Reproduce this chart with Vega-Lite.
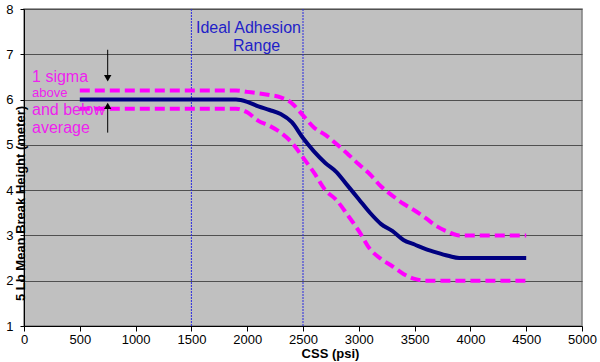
{
  "$schema": "https://vega.github.io/schema/vega-lite/v6.json",
  "width": 558,
  "height": 317,
  "autosize": {"type": "none"},
  "padding": {"left": 24, "top": 9, "right": 18, "bottom": 36},
  "background": "white",
  "config": {
    "view": {"fill": "#c0c0c0", "stroke": "#808080", "strokeWidth": 1.5},
    "font": "Liberation Sans",
    "axis": {
      "labelFont": "Liberation Sans",
      "titleFont": "Liberation Sans",
      "labelColor": "black",
      "titleColor": "black",
      "domainColor": "black",
      "tickColor": "black",
      "labelFontSize": 13,
      "titleFontSize": 13,
      "titleFontWeight": "bold"
    }
  },
  "datasets": {
    "curves": [
      {"x": 500, "y": 6.0, "s": "mean"}, {"x": 1000, "y": 6.0, "s": "mean"}, {"x": 1500, "y": 6.0, "s": "mean"}, {"x": 1900, "y": 6.0, "s": "mean"},
      {"x": 2000, "y": 5.95, "s": "mean"}, {"x": 2100, "y": 5.85, "s": "mean"}, {"x": 2200, "y": 5.77, "s": "mean"}, {"x": 2300, "y": 5.68, "s": "mean"},
      {"x": 2400, "y": 5.5, "s": "mean"}, {"x": 2500, "y": 5.15, "s": "mean"}, {"x": 2600, "y": 4.85, "s": "mean"}, {"x": 2700, "y": 4.6, "s": "mean"},
      {"x": 2800, "y": 4.4, "s": "mean"}, {"x": 2900, "y": 4.1, "s": "mean"}, {"x": 3000, "y": 3.8, "s": "mean"}, {"x": 3100, "y": 3.5, "s": "mean"},
      {"x": 3200, "y": 3.25, "s": "mean"}, {"x": 3300, "y": 3.1, "s": "mean"}, {"x": 3400, "y": 2.9, "s": "mean"}, {"x": 3500, "y": 2.8, "s": "mean"},
      {"x": 3600, "y": 2.7, "s": "mean"}, {"x": 3700, "y": 2.62, "s": "mean"}, {"x": 3800, "y": 2.55, "s": "mean"}, {"x": 3900, "y": 2.5, "s": "mean"},
      {"x": 4000, "y": 2.5, "s": "mean"}, {"x": 4500, "y": 2.5, "s": "mean"},
      {"x": 500, "y": 6.2, "s": "upper"}, {"x": 1000, "y": 6.2, "s": "upper"}, {"x": 1500, "y": 6.2, "s": "upper"}, {"x": 1900, "y": 6.2, "s": "upper"},
      {"x": 2000, "y": 6.17, "s": "upper"}, {"x": 2100, "y": 6.14, "s": "upper"}, {"x": 2200, "y": 6.1, "s": "upper"}, {"x": 2300, "y": 6.05, "s": "upper"},
      {"x": 2400, "y": 5.92, "s": "upper"}, {"x": 2500, "y": 5.65, "s": "upper"}, {"x": 2600, "y": 5.38, "s": "upper"}, {"x": 2700, "y": 5.22, "s": "upper"},
      {"x": 2800, "y": 5.02, "s": "upper"}, {"x": 2900, "y": 4.8, "s": "upper"}, {"x": 3000, "y": 4.57, "s": "upper"}, {"x": 3100, "y": 4.35, "s": "upper"},
      {"x": 3200, "y": 4.08, "s": "upper"}, {"x": 3300, "y": 3.88, "s": "upper"}, {"x": 3400, "y": 3.7, "s": "upper"}, {"x": 3500, "y": 3.55, "s": "upper"},
      {"x": 3600, "y": 3.38, "s": "upper"}, {"x": 3700, "y": 3.2, "s": "upper"}, {"x": 3800, "y": 3.08, "s": "upper"}, {"x": 3900, "y": 3.0, "s": "upper"},
      {"x": 4000, "y": 3.0, "s": "upper"}, {"x": 4500, "y": 3.0, "s": "upper"},
      {"x": 500, "y": 5.8, "s": "lower"}, {"x": 1000, "y": 5.8, "s": "lower"}, {"x": 1500, "y": 5.8, "s": "lower"}, {"x": 1900, "y": 5.8, "s": "lower"},
      {"x": 2000, "y": 5.72, "s": "lower"}, {"x": 2100, "y": 5.53, "s": "lower"}, {"x": 2200, "y": 5.42, "s": "lower"}, {"x": 2300, "y": 5.27, "s": "lower"},
      {"x": 2400, "y": 5.05, "s": "lower"}, {"x": 2500, "y": 4.72, "s": "lower"}, {"x": 2600, "y": 4.38, "s": "lower"}, {"x": 2700, "y": 4.0, "s": "lower"},
      {"x": 2800, "y": 3.78, "s": "lower"}, {"x": 2900, "y": 3.45, "s": "lower"}, {"x": 3000, "y": 3.1, "s": "lower"}, {"x": 3100, "y": 2.7, "s": "lower"},
      {"x": 3200, "y": 2.48, "s": "lower"}, {"x": 3300, "y": 2.32, "s": "lower"}, {"x": 3400, "y": 2.15, "s": "lower"}, {"x": 3500, "y": 2.04, "s": "lower"},
      {"x": 3600, "y": 2.0, "s": "lower"}, {"x": 4000, "y": 2.0, "s": "lower"}, {"x": 4500, "y": 2.0, "s": "lower"}
    ],
    "vlines": [{"x": 1500}, {"x": 2500}],
    "magentaBig": [
      {"x": 72, "y": 6.395, "t": "1 sigma"},
      {"x": 72, "y": 5.66, "t": "and below"},
      {"x": 72, "y": 5.27, "t": "average"}
    ],
    "magentaSmall": [{"x": 72, "y": 6.065, "t": "above"}],
    "blueText": [
      {"x": 1541, "y": 7.46, "t": "Ideal Adhesion"},
      {"x": 1873, "y": 7.08, "t": "Range"}
    ],
    "arrowLines": [
      {"x": 750, "y": 7.1, "y2": 6.5},
      {"x": 750, "y": 5.27, "y2": 5.85}
    ],
    "arrowHeads": [
      {"x": 750, "y": 6.47, "dir": "down"},
      {"x": 750, "y": 5.86, "dir": "up"}
    ]
  },
  "layer": [
    {
      "data": {"name": "vlines"},
      "mark": {"type": "rule", "color": "#2a2ae0", "strokeWidth": 1, "strokeDash": [2, 1]},
      "encoding": {
        "x": {
          "field": "x", "type": "quantitative",
          "scale": {"domain": [0, 5000], "nice": false},
          "axis": {
            "title": "CSS (psi)",
            "values": [0, 500, 1000, 1500, 2000, 2500, 3000, 3500, 4000, 4500, 5000],
            "format": "d",
            "grid": false,
            "tickSize": 5,
            "labelPadding": 2,
            "labelFlush": false,
            "labelOverlap": false,
            "titleX": 306,
            "titleY": 31,
            "titleBaseline": "alphabetic",
            "titleAnchor": null
          }
        }
      }
    },
    {
      "data": {"name": "curves"},
      "transform": [{"filter": "datum.s === 'mean'"}],
      "mark": {"type": "line", "color": "#000080", "strokeWidth": 4, "interpolate": "monotone"},
      "encoding": {
        "x": {"field": "x", "type": "quantitative"},
        "y": {
          "field": "y", "type": "quantitative",
          "scale": {"domain": [1, 8], "nice": false, "zero": false},
          "axis": {
            "title": "5 Lb Mean Break Height (meter)",
            "values": [1, 2, 3, 4, 5, 6, 7, 8],
            "grid": true,
            "gridColor": "#505050",
            "gridWidth": 1,
            "tickSize": 4,
            "labelPadding": 7,
            "labelFlush": false,
            "labelOverlap": false,
            "titleX": -4,
            "titleY": 194,
            "titleBaseline": "middle",
            "titleAlign": "center",
            "titleAnchor": null
          }
        }
      }
    },
    {
      "data": {"name": "curves"},
      "transform": [{"filter": "datum.s !== 'mean'"}],
      "mark": {"type": "line", "color": "#ff00ff", "strokeWidth": 4, "strokeDash": [10, 5], "interpolate": "monotone"},
      "encoding": {
        "x": {"field": "x", "type": "quantitative"},
        "y": {"field": "y", "type": "quantitative"},
        "detail": {"field": "s"}
      }
    },
    {
      "data": {"name": "magentaBig"},
      "mark": {"type": "text", "color": "#ee22ee", "fontSize": 16, "align": "left", "baseline": "alphabetic", "font": "Liberation Sans"},
      "encoding": {
        "x": {"field": "x", "type": "quantitative"},
        "y": {"field": "y", "type": "quantitative"},
        "text": {"field": "t"}
      }
    },
    {
      "data": {"name": "magentaSmall"},
      "mark": {"type": "text", "color": "#ee22ee", "fontSize": 13, "align": "left", "baseline": "alphabetic", "font": "Liberation Sans"},
      "encoding": {
        "x": {"field": "x", "type": "quantitative"},
        "y": {"field": "y", "type": "quantitative"},
        "text": {"field": "t"}
      }
    },
    {
      "data": {"name": "blueText"},
      "mark": {"type": "text", "color": "#1f1fc8", "fontSize": 16, "align": "left", "baseline": "alphabetic", "font": "Liberation Sans"},
      "encoding": {
        "x": {"field": "x", "type": "quantitative"},
        "y": {"field": "y", "type": "quantitative"},
        "text": {"field": "t"}
      }
    },
    {
      "data": {"name": "arrowLines"},
      "mark": {"type": "rule", "color": "black", "strokeWidth": 1},
      "encoding": {
        "x": {"field": "x", "type": "quantitative"},
        "y": {"field": "y", "type": "quantitative"},
        "y2": {"field": "y2"}
      }
    },
    {
      "data": {"name": "arrowHeads"},
      "mark": {"type": "point", "filled": true, "color": "black", "size": 55, "opacity": 1},
      "encoding": {
        "x": {"field": "x", "type": "quantitative"},
        "y": {"field": "y", "type": "quantitative"},
        "shape": {
          "field": "dir", "type": "nominal",
          "scale": {"domain": ["down", "up"], "range": ["triangle-down", "triangle-up"]},
          "legend": null
        }
      }
    }
  ]
}
